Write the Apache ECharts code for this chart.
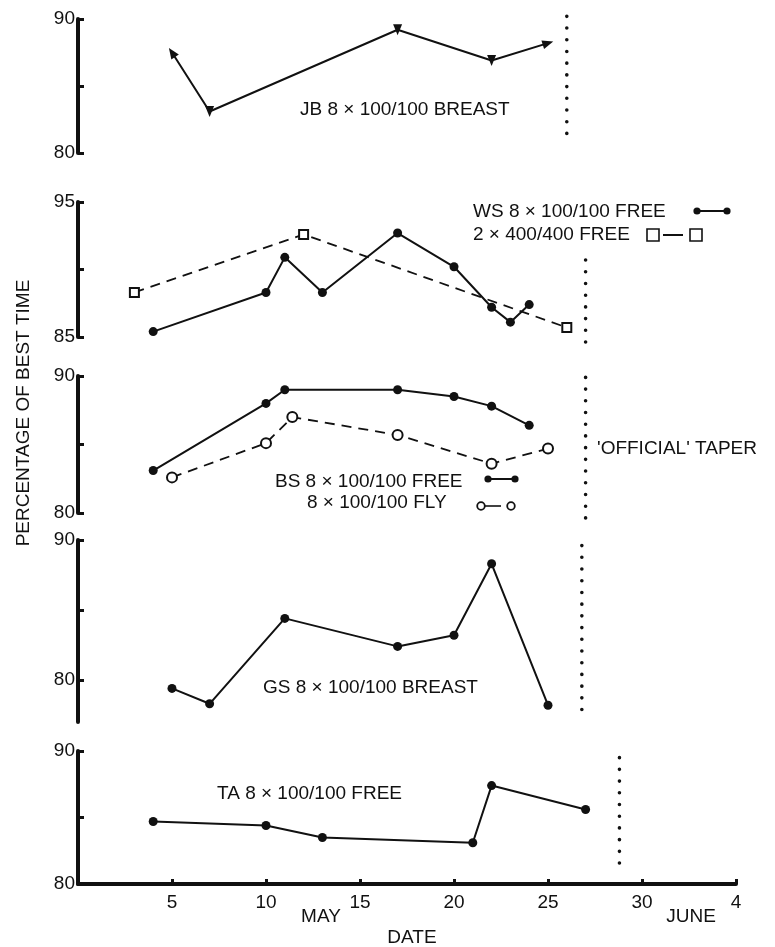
<!DOCTYPE html>
<html lang="en">
<head>
<meta charset="UTF-8">
<title>Percentage of best time</title>
<style>
  html, body { margin: 0; padding: 0; background: #fff; }
  #main { width: 775px; height: 947px; }
</style>
<script src="https://cdn.jsdelivr.net/npm/echarts@6.0.0/dist/echarts.min.js"></script>
</head>
<body>
<div id="main"></div>
<script>
// days are counted from 1 May, so 35 is 4 June
var xTicks = [5, 10, 15, 20, 25, 30, 35];
var xTickText = ['5', '10', '15', '20', '25', '30', '4'];

var jbDays = [5, 7, 17, 22, 25];
var jbPct = [87.5, 83.1, 89.2, 86.9, 88.2];

var wsDays = [4, 10, 11, 13, 17, 20, 22, 23, 24];
var wsPct = [85.4, 88.3, 90.9, 88.3, 92.7, 90.2, 87.2, 86.1, 87.4];
var ws400Days = [3, 12, 26];
var ws400Pct = [88.3, 92.6, 85.7];

var bsDays = [4, 10, 11, 17, 20, 22, 24];
var bsPct = [83.1, 88.0, 89.0, 89.0, 88.5, 87.8, 86.4];
var bsFlyDays = [5, 10, 11.4, 17, 22, 25];
var bsFlyPct = [82.6, 85.1, 87.0, 85.7, 83.6, 84.7];

var gsDays = [5, 7, 11, 17, 20, 22, 25];
var gsPct = [79.4, 78.3, 84.4, 82.4, 83.2, 88.3, 78.2];

var taDays = [4, 10, 13, 21, 22, 27];
var taPct = [84.7, 84.4, 83.5, 83.1, 87.4, 85.6];

// 'official' taper marker for each swimmer: [day, from %, to %]
var taperLines = [
  [26, 90.2, 80.6],
  [27, 90.7, 84.6],
  [27, 89.9, 79.6],
  [26.8, 89.6, 77.1],
  [28.8, 89.5, 80.7]
];

// y range, ticks and labelled ticks per panel
var yRanges = [[80, 90], [85, 95], [80, 90], [77, 90], [80, 90]];
var yTicks = [[80, 85, 90], [85, 90, 95], [80, 85, 90], [80, 85, 90], [80, 85, 90]];
var yLabels = [[80, 90], [85, 95], [80, 90], [80, 90], [80, 90]];

// layout
var gridTops = [19, 202, 376, 540, 751];
var gridHeights = [134, 135, 137, 182, 133];
var jbArrowRot = [34, 180, 180, 180, -73];

var INK = '#111';
var FAMILY = '"Liberation Sans", Arial, sans-serif';
var FONT = '19px ' + FAMILY;

function pts(xs, ys) {
  return xs.map(function (x, i) { return [x, ys[i]]; });
}

var grids = [], xAxes = [], yAxes = [], series = [];
for (var i = 0; i < 5; i++) {
  grids.push({ left: 78, width: 658, top: gridTops[i], height: gridHeights[i] });
  xAxes.push({
    type: 'value', gridIndex: i, min: 0, max: 35,
    show: i === 4,
    axisLine: { lineStyle: { color: INK, width: 4 } },
    axisTick: { inside: true, length: 5, lineStyle: { color: INK, width: 3 }, customValues: xTicks },
    axisLabel: {
      customValues: xTicks, margin: 9, color: INK, fontSize: 19, fontFamily: FAMILY,
      formatter: function (v) { return xTickText[xTicks.indexOf(v)]; }
    },
    splitLine: { show: false }
  });
  yAxes.push({
    type: 'value', gridIndex: i, min: yRanges[i][0], max: yRanges[i][1],
    axisLine: { show: true, lineStyle: { color: INK, width: 4 } },
    axisTick: { show: true, inside: true, length: 6, lineStyle: { color: INK, width: 3 }, customValues: yTicks[i] },
    axisLabel: { customValues: yLabels[i], margin: 3, color: INK, fontSize: 19, fontFamily: FAMILY },
    splitLine: { show: false }
  });
  series.push({
    name: 'taper' + i, type: 'line', xAxisIndex: i, yAxisIndex: i, clip: false,
    symbol: 'none', silent: true,
    data: [[taperLines[i][0], taperLines[i][1]], [taperLines[i][0], taperLines[i][2]]],
    lineStyle: { color: INK, width: 3.6, type: [0.01, 11.7], cap: 'round' }
  });
}

function solid(name, idx, xs, ys) {
  return {
    name: name, type: 'line', xAxisIndex: idx, yAxisIndex: idx,
    data: pts(xs, ys), symbol: 'circle', symbolSize: 9,
    itemStyle: { color: INK }, lineStyle: { color: INK, width: 2 }, z: 3
  };
}

series.push({
  name: 'JB', type: 'line', xAxisIndex: 0, yAxisIndex: 0,
  data: pts(jbDays, jbPct).map(function (p, i) { return { value: p, symbolRotate: jbArrowRot[i] }; }),
  symbol: 'triangle', symbolSize: [9, 11],
  itemStyle: { color: INK }, lineStyle: { color: INK, width: 2 }, z: 3
});
series.push(solid('WS', 1, wsDays, wsPct));
series.push({
  name: 'WS 400', type: 'line', xAxisIndex: 1, yAxisIndex: 1,
  data: pts(ws400Days, ws400Pct), symbol: 'emptyRect', symbolSize: 9,
  itemStyle: { color: INK, borderWidth: 1.5 }, lineStyle: { color: INK, width: 1.8, type: [10, 7] }, z: 2
});
series.push(solid('BS', 2, bsDays, bsPct));
series.push({
  name: 'BS fly', type: 'line', xAxisIndex: 2, yAxisIndex: 2,
  data: pts(bsFlyDays, bsFlyPct), symbol: 'emptyCircle', symbolSize: 10,
  itemStyle: { color: INK, borderWidth: 2 }, lineStyle: { color: INK, width: 1.8, type: [10, 7] }, z: 2
});
series.push(solid('GS', 3, gsDays, gsPct));
series.push(solid('TA', 4, taDays, taPct));

function label(text, x, y, align) {
  return {
    type: 'text', x: x, y: y, silent: true,
    style: { text: text, font: FONT, fill: INK, textAlign: align || 'left', textVerticalAlign: 'middle' }
  };
}
function dot(x, y, empty) {
  return {
    type: 'circle', shape: { cx: x, cy: y, r: empty ? 3.8 : 3.6 },
    style: empty ? { fill: '#fff', stroke: INK, lineWidth: 1.8 } : { fill: INK }
  };
}
function seg(x1, y1, x2, y2, w) {
  return { type: 'line', shape: { x1: x1, y1: y1, x2: x2, y2: y2 }, style: { stroke: INK, lineWidth: w || 2 } };
}
function box(x, y) {
  return { type: 'rect', shape: { x: x, y: y, width: 12, height: 12 }, style: { fill: '#fff', stroke: INK, lineWidth: 1.6 } };
}

var graphics = [
  label('JB 8 × 100/100 BREAST', 300, 110),
  label('WS 8 × 100/100 FREE', 473, 212),
  seg(697, 211, 727, 211), dot(697, 211), dot(727, 211),
  label('2 × 400/400 FREE', 473, 235),
  box(647, 229), seg(663, 235, 683, 235), box(690, 229),
  label('BS 8 × 100/100 FREE', 275, 482),
  seg(488, 479, 515, 479), dot(488, 479), dot(515, 479),
  label('8 × 100/100 FLY', 307, 503),
  seg(485, 506, 501, 506, 1.6), dot(481, 506, true), dot(511, 506, true),
  label('\'OFFICIAL\' TAPER', 597, 449),
  label('GS 8 × 100/100 BREAST', 263, 688),
  label('TA 8 × 100/100 FREE', 217, 794),
  label('MAY', 321, 917, 'center'),
  label('JUNE', 691, 917, 'center'),
  label('DATE', 412, 938, 'center'),
  {
    type: 'text', x: 24, y: 413, rotation: Math.PI / 2, silent: true,
    style: { text: 'PERCENTAGE OF BEST TIME', font: FONT, fill: INK, textAlign: 'center', textVerticalAlign: 'middle' }
  }
];

var chart = echarts.init(document.getElementById('main'));
chart.setOption({
  backgroundColor: '#fff',
  animation: false,
  grid: grids,
  xAxis: xAxes,
  yAxis: yAxes,
  series: series,
  graphic: graphics
});
</script>
</body>
</html>
